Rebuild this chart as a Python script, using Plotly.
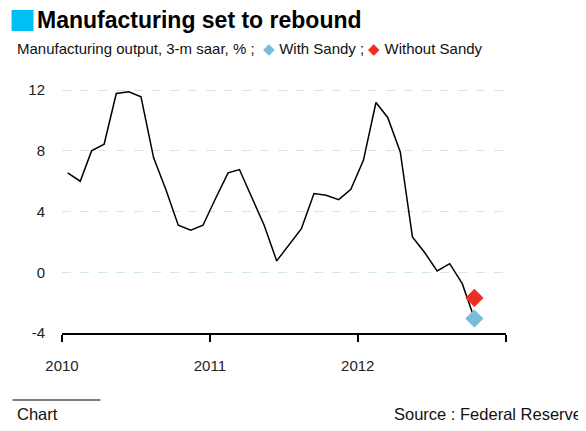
import plotly.graph_objects as go

months = ["2010-01-15", "2010-02-15", "2010-03-15", "2010-04-15", "2010-05-15", "2010-06-15",
          "2010-07-15", "2010-08-15", "2010-09-15", "2010-10-15", "2010-11-15", "2010-12-15",
          "2011-01-15", "2011-02-15", "2011-03-15", "2011-04-15", "2011-05-15", "2011-06-15",
          "2011-07-15", "2011-08-15", "2011-09-15", "2011-10-15", "2011-11-15", "2011-12-15",
          "2012-01-15", "2012-02-15", "2012-03-15", "2012-04-15", "2012-05-15", "2012-06-15",
          "2012-07-15", "2012-08-15", "2012-09-15", "2012-10-15"]
output = [6.55, 6.0, 8.0, 8.44, 11.78, 11.89, 11.56, 7.56, 5.4, 3.1, 2.77, 3.1,
          4.86, 6.55, 6.77, 4.86, 3.1, 0.75, 1.8, 2.88, 5.19, 5.08, 4.79, 5.47,
          7.38, 11.19, 10.2, 7.93, 2.33, 1.27, 0.09, 0.57, -0.75, -3.05]
with_sandy_x = ["2012-10-15"]
with_sandy_y = [-3.05]
without_sandy_x = ["2012-10-15"]
without_sandy_y = [-1.69]
year_ticks = ["2010-01-01", "2011-01-01", "2012-01-01", "2013-01-01"]
year_labels = ["2010", "2011", "2012", ""]
y_ticks = [-4, 0, 4, 8, 12]
y_labels = ["-4", "0", "4", "8", "12"]

# page is shown with the browser's default 8px body margin
OFF = 8
W, H = 586 - OFF, 431 - OFF
L, R, T, B = 53.5, 80, 67, 98
PW, PH = W - L - R, H - T - B


def px(x):
    return (x - OFF - L) / PW


def py(y):
    return (H - B - (y - OFF)) / PH


FONT = "Liberation Sans Narrow, Arial Narrow, Liberation Sans, Arial, sans-serif"
BLUE = "#7bbcd9"
RED = "#ee2e24"

fig = go.Figure()
fig.add_trace(go.Scatter(x=months, y=output, mode="lines",
                         line=dict(color="black", width=1.5), showlegend=False))
fig.add_trace(go.Scatter(x=with_sandy_x, y=with_sandy_y, mode="markers",
                         marker=dict(symbol="diamond", size=14, color=BLUE), showlegend=False))
fig.add_trace(go.Scatter(x=without_sandy_x, y=without_sandy_y, mode="markers",
                         marker=dict(symbol="diamond", size=14, color=RED), showlegend=False))

fig.update_layout(
    width=W, height=H,
    margin=dict(l=L, r=R, t=T, b=B),
    paper_bgcolor="white", plot_bgcolor="white",
    font=dict(family=FONT, size=15, color="#222"),
    xaxis=dict(type="date", range=["2010-01-01", "2013-01-01"],
               tickvals=year_ticks, ticktext=year_labels,
               showgrid=False, zeroline=False,
               showline=True, linecolor="black", linewidth=1.5,
               ticks="outside", ticklen=7, tickwidth=1.5, tickcolor="black",
               ticklabelstandoff=11, tickfont=dict(size=15, color="#222")),
    yaxis=dict(range=[-4, 13], tickvals=y_ticks, ticktext=y_labels,
               showgrid=True, gridcolor="#cfe6ee", griddash="dash", gridwidth=1.2,
               zeroline=False, showline=False, ticks="",
               ticklabelstandoff=16, tickfont=dict(size=15, color="#222")),
)

fig.add_shape(type="rect", xref="paper", yref="paper",
              x0=px(11), x1=px(33), y0=py(31), y1=py(10),
              fillcolor="#00c0f3", line=dict(width=0))
fig.add_annotation(xref="paper", yref="paper", x=px(34), y=py(20),
                   text="<b>Manufacturing set to rebound</b>", showarrow=False,
                   xanchor="left", yanchor="middle",
                   font=dict(family=FONT, size=23, color="black"))
fig.add_annotation(xref="paper", yref="paper", x=px(14), y=py(48),
                   text=("Manufacturing output, 3-m saar, % ;  "
                         f"<span style='color:{BLUE}'>◆</span> With Sandy ; "
                         f"<span style='color:{RED}'>◆</span> Without Sandy"),
                   showarrow=False, xanchor="left", yanchor="middle",
                   font=dict(family=FONT, size=15, color="#111"))
fig.add_shape(type="line", xref="paper", yref="paper",
              x0=px(12), x1=px(100), y0=py(400), y1=py(400),
              line=dict(color="black", width=1))
fig.add_annotation(xref="paper", yref="paper", x=px(14), y=py(414),
                   text="Chart", showarrow=False, xanchor="left", yanchor="middle",
                   font=dict(family=FONT, size=16.5, color="#111"))
fig.add_annotation(xref="paper", yref="paper", x=px(584), y=py(414),
                   text="Source : Federal Reserve", showarrow=False,
                   xanchor="right", yanchor="middle",
                   font=dict(family=FONT, size=16.5, color="#111"))

fig.write_html("out.html")
